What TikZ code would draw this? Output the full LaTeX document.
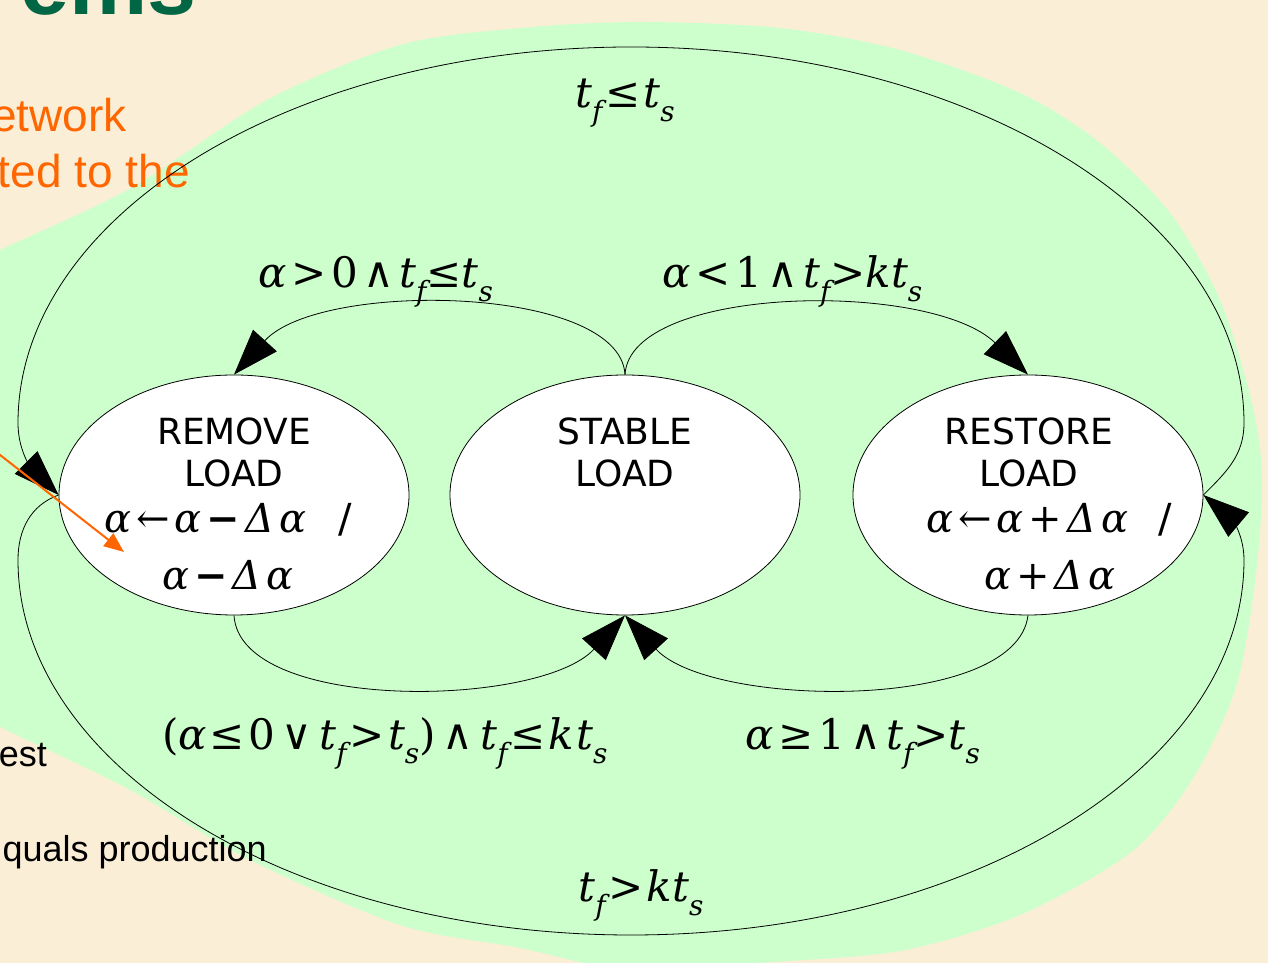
\documentclass[tikz,border=0pt]{standalone}
\usepackage{fontspec}
\setmainfont{DejaVu Sans}
\newfontfamily\dserif{DejaVu Serif}
\newfontfamily\arialf{Liberation Sans}
\usetikzlibrary{arrows.meta,shapes.geometric}
\definecolor{bgbeige}{RGB}{251,238,214}
\definecolor{blobgreen}{RGB}{204,255,204}
\definecolor{titlegreen}{RGB}{0,102,68}
\definecolor{slideorange}{RGB}{255,102,0}
\newcommand\mth{\dserif\fontsize{42}{46}\selectfont}
\newcommand\mthin{\dserif\fontsize{40}{44}\selectfont}
\newcommand\iv[1]{{\itshape #1}}
\newcommand\sbx[1]{\raisebox{-14pt}{\fontsize{28}{28}\selectfont\itshape #1}}
\newcommand\gp{\kern5pt}
\newcommand\gw{\kern7pt}
\newcommand\gk{\kern3pt}
\newcommand\bmin{{\bfseries −}}
\begin{document}
\begin{tikzpicture}[x=1pt,y=1pt,
  state/.style={ellipse, draw=black, line width=0.8pt, fill=white,
    minimum width=350pt, minimum height=240pt, inner sep=0pt},
  conn/.style={draw=black, line width=0.8pt, -{Triangle[length=46pt,width=32pt]}},
  stxt/.style={font=\fontsize{36}{40}\selectfont, anchor=base, inner sep=0pt},
  mlab/.style={font=\mth, anchor=base west, inner sep=0pt},
  mins/.style={font=\mthin, anchor=base west, inner sep=0pt},
  slidetxt/.style={font=\arialf\fontsize{36}{40}\selectfont, anchor=base east, inner sep=0pt}]
\useasboundingbox (0,0) rectangle (1268,963);
\fill[bgbeige] (0,0) rectangle (1268,963);
% green blob
\fill[blobgreen] plot[smooth cycle, tension=0.5] coordinates {
  (-80,675) (0,713) (133,776) (267,863) (400,918) (520,935) (640,941)
  (780,935) (900,913) (1020,870) (1100,820) (1170,750) (1220,663)
  (1252,560) (1262,483) (1255,380) (1235,273) (1190,180) (1130,110)
  (1020,48) (900,12) (760,0) (640,-10) (520,15) (400,38) (250,103)
  (130,173) (0,236) (-80,275)};
% slide text behind the diagram
\node[anchor=base east, inner sep=0pt, text=titlegreen,
  font=\arialf\bfseries\fontsize{88}{88}\selectfont] (title) at (197,948) {ems};
\node[slidetxt, text=slideorange, font=\arialf\fontsize{46}{50}\selectfont] (or1) at (127,831) {etwork};
\node[slidetxt, text=slideorange, font=\arialf\fontsize{46}{50}\selectfont] (or2) at (190,775) {ted to the};
\node[slidetxt, text=black] (bk1) at (47,196) {est};
\node[slidetxt, text=black] (bk2) at (267,101) {quals production};
% states
\node[state] (remove) at (234,468) {};
\node[state] (stable) at (625,468) {};
\node[state] (restore) at (1028,468) {};
% state texts
\node[stxt] (rm1) at (234,518) {REMOVE};
\node[stxt] (rm2) at (234,476) {LOAD};
\node[mins] (rm3) at (104,430) {\iv{α}\gp←\gp\iv{α}\gp\bmin\gp\iv{Δ}\gp\iv{α}\kern32pt{\rmfamily /}};
\node[mins, anchor=base] (rm4) at (228,373) {\iv{α}\gp\bmin\gp\iv{Δ}\gp\iv{α}};
\node[stxt] (st1) at (625,518) {STABLE};
\node[stxt] (st2) at (625,476) {LOAD};
\node[stxt] (rs1) at (1029,518) {RESTORE};
\node[stxt] (rs2) at (1029,476) {LOAD};
\node[mins] (rs3) at (926,430) {\iv{α}\gp←\gp\iv{α}\gp+\gp\iv{Δ}\gp\iv{α}\kern30pt{\rmfamily /}};
\node[mins, anchor=base] (rs4) at (1050,373) {\iv{α}\gp+\gp\iv{Δ}\gp\iv{α}};
% helper coordinates for the outer loops
\coordinate (ortop) at (1244,540);
\coordinate (olbot) at (18,403);
% connectors
\draw[conn] (stable.north) .. controls (620,678) and (320,683) .. (remove.north);
\draw[conn] (stable.north) .. controls (630,678) and (930,683) .. (restore.north);
\draw[conn] (remove.south) .. controls (240,250) and (540,255) .. (stable.south);
\draw[conn] (restore.south) .. controls (1016,250) and (710,255) .. (stable.south);
\draw[conn] (restore.east) to[out=45,in=-90] (ortop)
  arc[start angle=0,end angle=180,x radius=613,y radius=376]
  to[out=-90,in=135] (remove.west);
\draw[conn] (remove.west) to[out=200,in=90] (olbot)
  arc[start angle=180,end angle=360,x radius=613,y radius=375]
  to[out=90,in=-40] (restore.east);
% labels
\node[mlab, anchor=base] (l1) at (625,855) {\iv{t}\sbx{f}\gk≤\gk\iv{t}\sbx{s}};
\node[mlab] (l2) at (258,675) {\iv{α}\gp>\gp 0\gp∧\gp\iv{t}\sbx{f}≤\iv{t}\sbx{s}};
\node[mlab] (l3) at (662,675) {\iv{α}\gp<\gp 1\gp∧\gp\iv{t}\sbx{f}>\iv{k}\iv{t}\sbx{s}};
\node[mlab] (l4) at (162,213) {(\iv{α}\gk≤\gk 0\gw∨\gw\iv{t}\sbx{f}\gk>\gk\iv{t}\sbx{s})\gw∧\gw\iv{t}\sbx{f}\gk≤\gk\iv{k}\kern2pt\iv{t}\sbx{s}};
\node[mlab] (l5) at (745,213) {\iv{α}\gp≥\gp 1\gp∧\gp\iv{t}\sbx{f}>\iv{t}\sbx{s}};
\node[mlab, anchor=base] (l6) at (641,61) {\iv{t}\sbx{f}\gk>\gk\iv{k}\iv{t}\sbx{s}};
% orange pointer of the slide
\coordinate (oa1) at (-5,512);
\coordinate (oa2) at (124,411);
\draw[slideorange, line width=2pt, -{Triangle[length=20pt,width=16pt]}] (oa1) -- (oa2);
\end{tikzpicture}
\end{document}
